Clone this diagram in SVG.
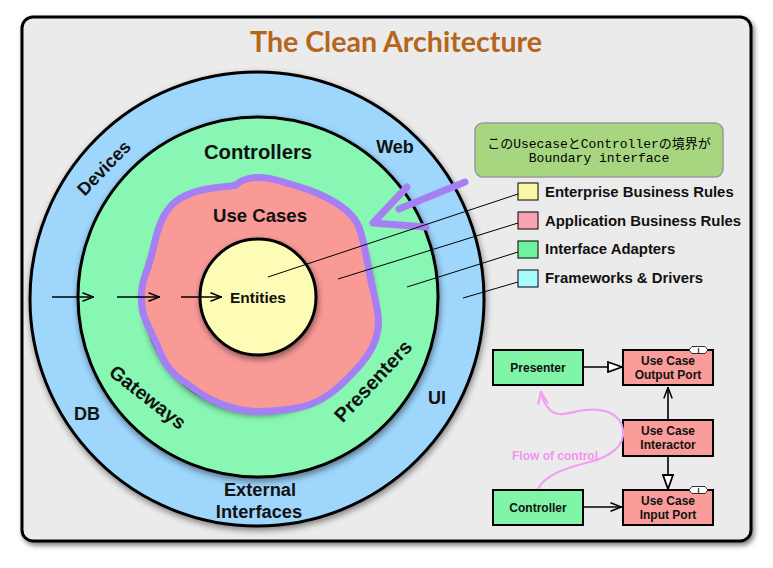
<svg xmlns="http://www.w3.org/2000/svg" width="773" height="568" viewBox="0 0 773 568">
<defs>
<style>
.t{font-family:"Liberation Sans",Arial,Helvetica,sans-serif;font-weight:bold;fill:#111}
.ring{stroke:#000;stroke-width:3}
.box{stroke:#000;stroke-width:2}
.sq{stroke:#000;stroke-width:1}
.ln{stroke:#000;stroke-width:1;fill:none}
.ar{stroke:#000;stroke-width:1.6;fill:none}
.bt{font-size:12px;text-anchor:middle}
.lt{font-size:14.9px}
.purple{fill:none;stroke:#a57ff3;stroke-width:7;stroke-linecap:round;stroke-linejoin:round}
.tag{fill:#fff;stroke:#000;stroke-width:0.8}
.mono{font-family:"Liberation Mono","Noto Sans CJK JP",monospace;font-size:13px;fill:#000;text-anchor:middle}
</style>
<filter id="sh" x="-10%" y="-10%" width="125%" height="125%">
<feDropShadow dx="1" dy="3" stdDeviation="3" flood-color="#000" flood-opacity="0.45"/>
</filter>
<filter id="fsh" x="-5%" y="-5%" width="110%" height="112%">
<feDropShadow dx="2" dy="3" stdDeviation="2.5" flood-color="#000" flood-opacity="0.5"/>
</filter>
<marker id="v" viewBox="0 0 12 10" refX="12" refY="5" markerWidth="12" markerHeight="10" markerUnits="userSpaceOnUse" orient="auto">
<path d="M0.5,0.8 L11.5,5 L0.5,9.2" fill="none" stroke="#000" stroke-width="1.5"/>
</marker>
<marker id="tri" viewBox="0 0 16 12" refX="15" refY="6" markerWidth="16" markerHeight="12" markerUnits="userSpaceOnUse" orient="auto">
<path d="M1,1 L15,6 L1,11 Z" fill="#fff" stroke="#000" stroke-width="1.8"/>
</marker>
<marker id="pv" viewBox="0 0 14 12" refX="13" refY="6" markerWidth="14" markerHeight="12" markerUnits="userSpaceOnUse" orient="auto">
<path d="M1,1 L13,6 L1,11" fill="none" stroke="#f3a0f0" stroke-width="2.2"/>
</marker>
</defs>

<g id="frame">
<rect x="22" y="17" width="729" height="524" rx="11" fill="#ebebeb" stroke="#000" stroke-width="3" filter="url(#fsh)"/>
</g>

<g id="title">
<text x="396" y="52" text-anchor="middle" font-family="Lato, 'Open Sans', sans-serif" font-weight="700" font-size="28" textLength="292" lengthAdjust="spacingAndGlyphs" fill="#b5661b">The Clean Architecture</text>
</g>

<g id="frameworks-drivers">
<circle cx="257" cy="299" r="227" fill="#9ed6fc" class="ring" filter="url(#sh)"/>
<text class="t" font-size="18" transform="translate(104,168) rotate(-46)" text-anchor="middle" dy="6">Devices</text>
<text class="t" font-size="18" x="395" y="153" text-anchor="middle">Web</text>
<text class="t" font-size="18" x="437" y="404" text-anchor="middle">UI</text>
<text class="t" font-size="18" x="74" y="420">DB</text>
<text class="t" font-size="18.3" x="260" y="496" text-anchor="middle">External</text>
<text class="t" font-size="18.3" x="259" y="518" text-anchor="middle">Interfaces</text>
</g>

<g id="interface-adapters">
<circle cx="258" cy="297" r="180" fill="#88f7b3" class="ring" filter="url(#sh)"/>
<text class="t" font-size="20.3" x="258" y="159" text-anchor="middle">Controllers</text>
<text class="t" font-size="19.5" transform="translate(148,397) rotate(38)" text-anchor="middle" dy="7">Gateways</text>
<text class="t" font-size="20" transform="translate(373,381) rotate(-47)" text-anchor="middle" dy="7">Presenters</text>
</g>

<g id="use-cases">
<circle cx="258" cy="297" r="114" fill="#fa9a97" class="ring" filter="url(#sh)"/>
<path d="M238,183.5 Q240,181 247,179 Q254,177 262,177.5 Q270,178 280,181 Q290,184 300,187 Q310,190 320,194.5 Q330,199 338.5,204.5 Q347,210 352.5,216.5 Q358,223 360.5,231.5 Q363,240 365,250 Q367,260 369,271 Q371,282 373.5,292 Q376,302 377.5,311 Q379,320 378,329 Q377,338 372.5,347 Q368,356 361,364 Q354,372 346,380 Q338,388 329,394.5 Q320,401 310,404.5 Q300,408 287.5,409.5 Q275,411 262.5,411.5 Q250,412 239,409.5 Q228,407 217.5,402.5 Q207,398 198.5,392 Q190,386 183,381 Q176,376 170.5,370 Q165,364 161.5,355.5 Q158,347 154,338.5 Q150,330 146.5,322.5 Q143,315 142,307.5 Q141,300 141.5,292 Q142,284 145,276 Q148,268 150.5,259 Q153,250 155,241 Q157,232 160.5,223 Q164,214 170,207 Q176,200 185.5,195.5 Q195,191 206.5,189 Q218,187 227,186.5 Q236,186 238,183.5 Z" fill="#fa9a97" stroke="none"/>
<text class="t" font-size="18.6" x="260" y="222" text-anchor="middle">Use Cases</text>
</g>

<g id="entities">
<circle cx="258" cy="297" r="58" fill="#fcfcb6" class="ring" filter="url(#sh)"/>
<text class="t" font-size="15.5" x="230" y="303">Entities</text>
</g>

<g id="boundary-highlight">
<path class="purple" d="M238,183.5 Q240,181 247,179 Q254,177 262,177.5 Q270,178 280,181 Q290,184 300,187 Q310,190 320,194.5 Q330,199 338.5,204.5 Q347,210 352.5,216.5 Q358,223 360.5,231.5 Q363,240 365,250 Q367,260 369,271 Q371,282 373.5,292 Q376,302 377.5,311 Q379,320 378,329 Q377,338 372.5,347 Q368,356 361,364 Q354,372 346,380 Q338,388 329,394.5 Q320,401 310,404.5 Q300,408 287.5,409.5 Q275,411 262.5,411.5 Q250,412 239,409.5 Q228,407 217.5,402.5 Q207,398 198.5,392 Q190,386 183,381 Q176,376 170.5,370 Q165,364 161.5,355.5 Q158,347 154,338.5 Q150,330 146.5,322.5 Q143,315 142,307.5 Q141,300 141.5,292 Q142,284 145,276 Q148,268 150.5,259 Q153,250 155,241 Q157,232 160.5,223 Q164,214 170,207 Q176,200 185.5,195.5 Q195,191 206.5,189 Q218,187 227,186.5 Q236,186 238,183.5 Z"/>
<path class="purple" d="M465,182 L399,209 M407,187 L373,223 L426,227"/>
</g>

<g id="note">
<rect x="475" y="123" width="248" height="54" rx="8" fill="#a8d57f" stroke="#9a9a9a" stroke-width="1.5"/>
<text class="mono" x="599" y="148">このUsecaseとControllerの境界が</text>
<text class="mono" x="599" y="162">Boundary interface</text>
</g>

<g id="legend">
<rect class="sq" x="518" y="183" width="20" height="17" fill="#f8f8a6"/>
<rect class="sq" x="518" y="212" width="20" height="17" fill="#f9a2b2"/>
<rect class="sq" x="518" y="241" width="20" height="17" fill="#6ef39d"/>
<rect class="sq" x="518" y="270" width="20" height="17" fill="#a6fcfc"/>
<text class="t lt" x="545" y="197">Enterprise Business Rules</text>
<text class="t lt" x="545" y="226">Application Business Rules</text>
<text class="t lt" x="545" y="254">Interface Adapters</text>
<text class="t lt" x="545" y="283">Frameworks &amp; Drivers</text>
</g>

<g id="presenter">
<rect class="box" x="493" y="350" width="90" height="35" fill="#80f5a8"/>
<text class="t bt" x="538" y="372">Presenter</text>
</g>
<g id="output-port">
<rect class="box" x="623" y="350" width="90" height="35" fill="#fa9c9a"/>
<text class="t bt" x="668" y="365">Use Case</text>
<text class="t bt" x="668" y="379">Output Port</text>
<polygon class="tag" points="689,350 692,346.5 705,346.5 708,350 705,353.5 692,353.5"/>
<text class="t" x="698.5" y="352.8" font-size="7" text-anchor="middle">I</text>
</g>
<g id="interactor">
<rect class="box" x="623" y="420" width="90" height="36" fill="#fa9c9a"/>
<text class="t bt" x="668" y="435">Use Case</text>
<text class="t bt" x="668" y="449">Interactor</text>
</g>
<g id="controller">
<rect class="box" x="493" y="490" width="90" height="35" fill="#80f5a8"/>
<text class="t bt" x="538" y="512">Controller</text>
</g>
<g id="input-port">
<rect class="box" x="623" y="490" width="90" height="35" fill="#fa9c9a"/>
<text class="t bt" x="668" y="505">Use Case</text>
<text class="t bt" x="668" y="519">Input Port</text>
<polygon class="tag" points="689,490 692,486.5 705,486.5 708,490 705,493.5 692,493.5"/>
<text class="t" x="698.5" y="492.8" font-size="7" text-anchor="middle">I</text>
</g>

<g id="connectors">
<path class="ar" d="M52,297 L94,297" marker-end="url(#v)"/>
<path class="ar" d="M117,297 L160,297" marker-end="url(#v)"/>
<path class="ar" d="M181,297 L222,297" marker-end="url(#v)"/>
<path class="ln" d="M268,277 L518,194"/>
<path class="ln" d="M338,279 L518,223"/>
<path class="ln" d="M407,287 L518,252"/>
<path class="ln" d="M463,298 L518,282"/>
<path class="ar" stroke-width="2" d="M583,367 L622,367" marker-end="url(#tri)"/>
<path class="ar" stroke-width="2" d="M668,420 L668,387" marker-end="url(#v)"/>
<path class="ar" stroke-width="2" d="M668,456 L668,489" marker-end="url(#tri)"/>
<path class="ar" stroke-width="2" d="M583,507 L622,507" marker-end="url(#v)"/>
<path d="M538,489 C545,475 565,468 590,462 C612,456 625,445 623,430 C621,414 605,408 585,410 C570,412 558,418 550,410 C545,405 542,398 541,392" fill="none" stroke="#f3a0f0" stroke-width="2.2" marker-end="url(#pv)"/>
<text x="512" y="460" font-family="'Liberation Sans',Arial,sans-serif" font-weight="bold" font-size="12" fill="#f394ef">Flow of control</text>
</g>
</svg>
